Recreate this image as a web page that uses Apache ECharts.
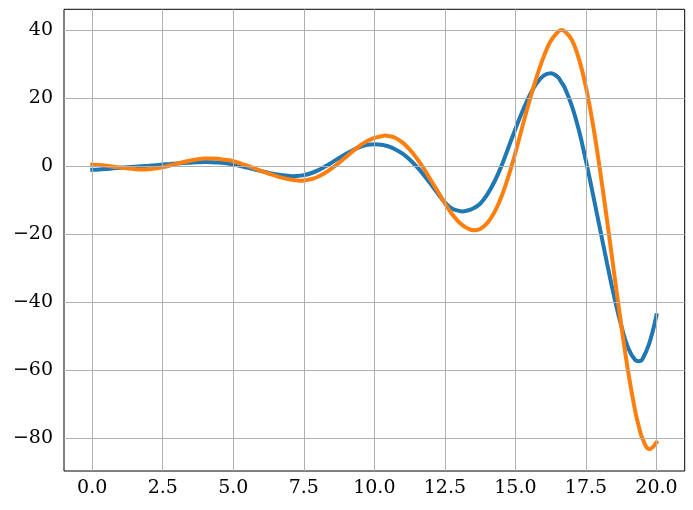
<!DOCTYPE html>
<html><head><meta charset="utf-8">
<script src="https://cdn.jsdelivr.net/npm/echarts@6/dist/echarts.min.js"></script>
<style>html,body{margin:0;padding:0;background:#fff}#c{width:693px;height:510px}</style>
</head><body><div id="c"></div>
<script>
const xValues = [0,0.25,0.5,0.75,1,1.25,1.5,1.75,2,2.25,2.5,2.75,3,3.25,3.5,3.75,4,4.25,4.5,4.75,5,5.25,5.5,5.75,6,6.25,6.5,6.75,7,7.125,7.25,7.375,7.5,7.75,8,8.25,8.5,8.75,9,9.25,9.5,9.75,10,10.25,10.375,10.5,10.75,11,11.25,11.5,11.75,12,12.25,12.5,12.75,13,13.125,13.25,13.5,13.75,14,14.25,14.5,14.75,15,15.25,15.5,15.75,16,16.25,16.5,16.625,16.75,17,17.25,17.5,17.75,18,18.25,18.5,18.75,19,19.25,19.375,19.5,19.75,20];
const blueValues = [-1.0,-0.9,-0.75,-0.58,-0.42,-0.26,-0.1,0.05,0.2,0.36,0.52,0.68,0.84,0.98,1.1,1.2,1.26,1.24,1.12,0.88,0.55,0.12,-0.38,-0.9,-1.4,-1.88,-2.3,-2.62,-2.83,-2.88,-2.82,-2.72,-2.57,-2.02,-1.17,-0.07,1.18,2.48,3.73,4.83,5.73,6.33,6.53,6.38,6.15,5.88,4.98,3.72,2.0,-0.1,-2.5,-5.2,-8.0,-10.6,-12.4,-13.1,-13.25,-13.1,-12.4,-11.0,-8.3,-4.6,0.0,5.5,11.0,16.2,20.8,24.4,26.7,27.4,26.3,24.8,23.1,17.8,10.6,1.6,-8.3,-18.5,-28.6,-38.3,-46.8,-53.5,-57.0,-57.3,-56.7,-51.9,-43.8];
const orangeValues = [0.5,0.4,0.2,-0.1,-0.35,-0.6,-0.8,-0.9,-0.85,-0.6,-0.25,0.25,0.8,1.3,1.75,2.1,2.3,2.35,2.2,1.9,1.5,0.9,0.2,-0.6,-1.4,-2.1,-2.8,-3.4,-3.85,-4.0,-4.12,-4.2,-4.15,-3.8,-3.05,-1.95,-0.55,1.05,2.8,4.55,6.15,7.45,8.35,8.85,9.05,8.95,8.35,7.0,5.0,2.4,-0.6,-4.0,-7.4,-10.9,-14.0,-16.4,-17.3,-18.0,-18.8,-18.4,-16.7,-13.6,-9.0,-3.0,4.0,11.8,19.3,26.2,32.2,36.9,39.5,40.1,39.7,37.2,31.6,23.3,12.2,-1.2,-16.0,-31.5,-46.7,-60.6,-72.2,-76.5,-80.0,-83.2,-81.2];
const xTicks = [0, 2.5, 5, 7.5, 10, 12.5, 15, 17.5, 20];
const yTicks = [-80, -60, -40, -20, 0, 20, 40];

const font = 'DejaVu Serif';
const chart = echarts.init(document.getElementById('c'), null, {renderer: 'canvas'});
const gridLines = xTicks.map(v => ({xAxis: v})).concat(yTicks.map(v => ({yAxis: v})));
chart.setOption({
  animation: false,
  backgroundColor: '#fff',
  grid: {left: 64, right: 8.3, top: 9.3, bottom: 39, show: true, borderColor: '#000', borderWidth: 1, backgroundColor: 'transparent'},
  xAxis: {
    type: 'value', min: -1, max: 21,
    axisLine: {show: false},
    splitLine: {show: false},
    axisTick: {show: true, customValues: xTicks, length: 5, lineStyle: {color: '#000', width: 1}},
    axisLabel: {customValues: xTicks, margin: 8, color: '#000', fontFamily: font, fontSize: 19,
      formatter: v => Number(v).toFixed(1)}
  },
  yAxis: {
    type: 'value', min: -89.6, max: 46.2,
    axisLine: {show: false},
    splitLine: {show: false},
    axisTick: {show: true, customValues: yTicks, length: 5, lineStyle: {color: '#000', width: 1}},
    axisLabel: {customValues: yTicks, margin: 11, color: '#000', fontFamily: font, fontSize: 19,
      formatter: v => (v < 0 ? '\u2212' : '') + Math.abs(v)}
  },
  series: [
    {type: 'line', data: [[0, 0]], symbol: 'none', lineStyle: {opacity: 0}, z: 1, silent: true,
      markLine: {silent: true, symbol: 'none', label: {show: false}, emphasis: {disabled: true},
        lineStyle: {color: '#b0b0b0', width: 1, type: 'solid'}, data: gridLines}},
    {type: 'line', data: xValues.map((x, i) => [x, blueValues[i]]), showSymbol: false, symbol: 'none',
      smooth: 0.4, smoothConstraint: false,
      lineStyle: {color: '#1f77b4', width: 4, cap: 'square'}, z: 3},
    {type: 'line', data: xValues.map((x, i) => [x, orangeValues[i]]), showSymbol: false, symbol: 'none',
      smooth: 0.4, smoothConstraint: false,
      lineStyle: {color: '#ff7f0e', width: 4, cap: 'square'}, z: 4}
  ]
});
</script></body></html>
